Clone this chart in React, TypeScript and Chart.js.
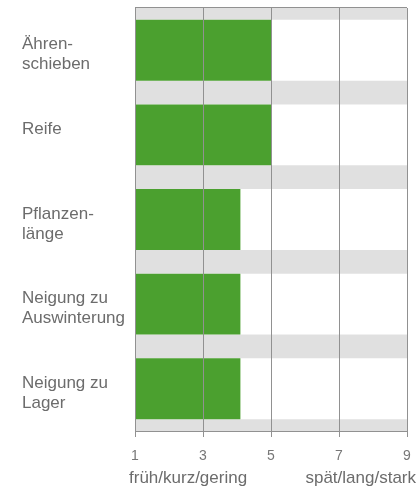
import React, { useEffect, useRef } from 'react';
import { Chart, registerables } from 'chart.js';

Chart.register(...registerables);

const categories: (string[])[] = [
  ['Ähren-', 'schieben'],
  ['Reife', ''],
  ['Pflanzen-', 'länge'],
  ['Neigung zu', 'Auswinterung'],
  ['Neigung zu', 'Lager'],
];
const values = [5, 5, 4.1, 4.1, 4.1];
const fullRange = [9, 9, 9, 9, 9];
const xTicks = [1, 3, 5, 7, 9];
const lowLabel = 'früh/kurz/gering';
const highLabel = 'spät/lang/stark';

const GRID = '#919191';
const TEXT = '#6c6c6c';
const FONT = '"Liberation Sans", Arial, Helvetica, sans-serif';

const decorPlugin = {
  id: 'decor',
  beforeDatasetsDraw(chart: any) {
    const { ctx, chartArea: a } = chart;
    ctx.save();
    ctx.fillStyle = '#e0e0e0';
    ctx.fillRect(a.left, a.top, a.right - a.left, a.bottom - a.top);
    ctx.restore();
  },
  afterDraw(chart: any) {
    const { ctx, chartArea: a } = chart;
    ctx.save();
    ctx.strokeStyle = GRID;
    ctx.lineWidth = 1;
    ctx.beginPath();
    ctx.moveTo(a.left, a.top - 0.5);
    ctx.lineTo(a.right, a.top - 0.5);
    ctx.stroke();
    ctx.fillStyle = TEXT;
    ctx.font = `17px ${FONT}`;
    ctx.textBaseline = 'middle';
    ctx.textAlign = 'left';
    ctx.fillText(lowLabel, a.left - 6, 478);
    ctx.textAlign = 'right';
    ctx.fillText(highLabel, a.right + 9, 478);
    ctx.restore();
  },
};

export default function App() {
  const ref = useRef<HTMLCanvasElement>(null);
  useEffect(() => {
    if (!ref.current) return;
    const chart = new Chart(ref.current, {
      type: 'bar',
      data: {
        labels: categories,
        datasets: [
          {
            data: values,
            backgroundColor: '#4ba02f',
            barPercentage: 0.72,
            categoryPercentage: 1,
            grouped: false,
          },
          {
            data: fullRange,
            backgroundColor: '#ffffff',
            barPercentage: 0.72,
            categoryPercentage: 1,
            grouped: false,
          },
        ],
      },
      options: {
        indexAxis: 'y',
        animation: false,
        responsive: false,
        maintainAspectRatio: false,
        layout: { padding: { left: 22, top: 8, right: 13, bottom: 0 } },
        plugins: { legend: { display: false }, tooltip: { enabled: false } },
        scales: {
          x: {
            type: 'linear',
            min: 1,
            max: 9,
            afterBuildTicks: (s: any) => {
              s.ticks = xTicks.map((v) => ({ value: v }));
            },
            afterFit: (s: any) => {
              s.height = 58;
              s.paddingLeft = 0;
              s.paddingRight = 0;
            },
            grid: { color: GRID, lineWidth: 1, tickLength: 6, drawTicks: true, tickColor: GRID, z: 1 },
            border: { display: true, color: GRID, width: 1, z: 1 },
            ticks: {
              color: '#777777',
              font: { family: FONT, size: 14 },
              padding: 11,
              maxRotation: 0,
            },
          },
          y: {
            type: 'category',
            afterFit: (s: any) => {
              s.width = 113;
              s.paddingTop = 0;
              s.paddingBottom = 0;
            },
            grid: { display: false },
            border: { display: false },
            ticks: {
              crossAlign: 'far',
              color: TEXT,
              labelOffset: 4.5,
              font: { family: FONT, size: 17, lineHeight: 20 / 17 },
            },
          },
        },
      },
      plugins: [decorPlugin],
    });
    return () => chart.destroy();
  }, []);
  return (
    <div style={{ position: 'absolute', left: 0, top: 0, width: 420, height: 489 }}>
      <canvas ref={ref} width={420} height={489} style={{ width: 420, height: 489, display: 'block' }} />
    </div>
  );
}
